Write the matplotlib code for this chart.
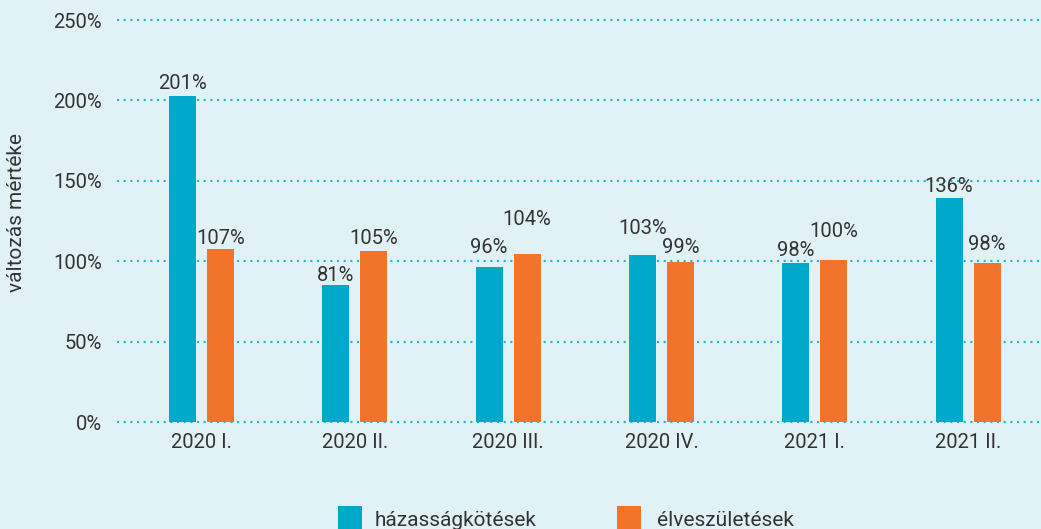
import matplotlib
matplotlib.use("Agg")
import matplotlib.pyplot as plt
from matplotlib.patches import Rectangle
import numpy as np

categories = ["2020 I.", "2020 II.", "2020 III.", "2020 IV.", "2021 I.", "2021 II."]
hazassag = [203, 85, 96.5, 104, 99, 139.5]
elveszuletes = [107.5, 106.3, 104.3, 99.4, 100.6, 98.6]
hazassag_labels = ["201%", "81%", "96%", "103%", "98%", "136%"]
elveszuletes_labels = ["107%", "105%", "104%", "99%", "100%", "98%"]
yticks = [0, 50, 100, 150, 200, 250]
series_names = ["házasságkötések", "élveszületések"]

# label gaps above bars (pixels), as in the reference
hazassag_gap = [7, 4, 14, 21, 7, 6]
elveszuletes_gap = [5, 7, 29, 9, 23, 13]

BG = "#e1f2f7"
TEAL = "#00a8c9"
ORANGE = "#f2742b"
GRID = "#1fb3d2"
TXT = "#333333"

plt.rcParams["font.family"] = ["Roboto", "DejaVu Sans"]

W, H = 1041, 529
fig = plt.figure(figsize=(W / 100, H / 100), dpi=100, facecolor=BG)

ax_left, ax_right = 117, 1041
ax_top, ax_bot = 17, 426
ax = fig.add_axes([ax_left / W, (H - ax_bot) / H, (ax_right - ax_left) / W, (ax_bot - ax_top) / H])
ax.set_facecolor(BG)

px_per_unit = 160.8 / 100.0
y0_px = 422
ylo = -(ax_bot - y0_px) / px_per_unit
yhi = 250 + (20 - ax_top) / px_per_unit
ax.set_ylim(ylo, yhi)

spacing = 153.3
c0 = 201.5
xlo = (ax_left - c0) / spacing
xhi = (ax_right - c0) / spacing
ax.set_xlim(xlo, xhi)

x = np.arange(len(categories))
bw = 27 / spacing
off = 19 / spacing

b1 = ax.bar(x - off, hazassag, width=bw, color=TEAL, zorder=3)
b2 = ax.bar(x + off, elveszuletes, width=bw, color=ORANGE, zorder=3)

for bars, labels, gaps in ((b1, hazassag_labels, hazassag_gap), (b2, elveszuletes_labels, elveszuletes_gap)):
    for r, lab, g in zip(bars, labels, gaps):
        ax.annotate(lab, (r.get_x() + r.get_width() / 2, r.get_height()),
                    xytext=(0, g * 0.72), textcoords="offset points",
                    ha="center", va="baseline", fontsize=14.5, color=TXT, zorder=4)

ax.set_yticks(yticks)
ax.set_yticklabels([f"{v}%" for v in yticks])
ax.set_xticks(x)
ax.set_xticklabels(categories)
ax.tick_params(axis="y", length=0, pad=10.8, labelsize=14.5, labelcolor=TXT)
ax.tick_params(axis="x", length=0, pad=5, labelsize=14.5, labelcolor=TXT)

for v in yticks:
    ax.axhline(v, color=GRID, linewidth=1.5, linestyle=(0, (1, 2.2)), zorder=1)

for s in ax.spines.values():
    s.set_visible(False)

fig.text(17 / W, (H - 212) / H, "változás mértéke", rotation=90, ha="center", va="center",
         fontsize=15, color=TXT)

# legend
leg_items = [(338, TEAL, 375), (617, ORANGE, 657)]
for (sx, col, tx), name in zip(leg_items, series_names):
    fig.add_artist(Rectangle((sx / W, (H - 531) / H), 24 / W, 25 / H,
                             transform=fig.transFigure, facecolor=col, edgecolor="none"))
    fig.text(tx / W, (H - 526) / H, name, ha="left", va="baseline", fontsize=15, color=TXT)

fig.savefig("out.png", dpi=100, facecolor=BG)
